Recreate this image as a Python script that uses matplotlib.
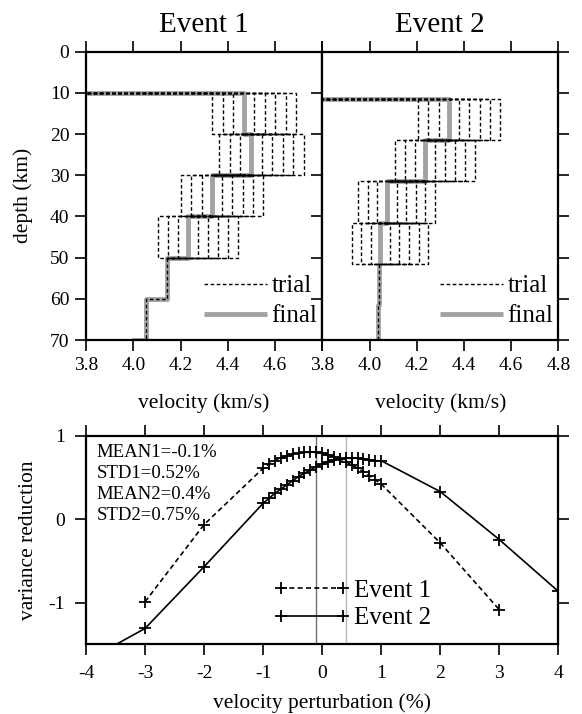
import matplotlib
matplotlib.use("Agg")
import matplotlib.pyplot as plt
import numpy as np

plt.rcParams['font.family'] = ['Liberation Serif', 'DejaVu Serif']
plt.rcParams['axes.unicode_minus'] = False

# --- top panels: layered velocity models ---
tops1 = [0, 10, 20, 30, 40, 50, 60, 70, 80]
vel1 = [3.78, 4.467, 4.498, 4.333, 4.231, 4.142, 4.053, 4.0]
tops2 = [0, 11.5, 21.5, 31.5, 41.5, 51.5, 61.5, 80]
vel2 = [3.79, 4.336, 4.234, 4.074, 4.046, 4.039, 4.034]
trial_layers = [1, 2, 3, 4]
trial_pct = [-3, -2, -1, 1, 2, 3, 4, 5]

# --- bottom panel: variance reduction vs perturbation ---
pert1 = [-3, -2, -1, -0.9, -0.8, -0.7, -0.6, -0.5, -0.4, -0.3, -0.2, -0.1, 0,
         0.1, 0.2, 0.3, 0.4, 0.5, 0.6, 0.7, 0.8, 0.9, 1, 2, 3]
vr1 = [-0.99, -0.065, 0.61, 0.66, 0.70, 0.73, 0.76, 0.78, 0.79, 0.80, 0.80, 0.80, 0.79,
       0.77, 0.75, 0.72, 0.69, 0.65, 0.61, 0.57, 0.52, 0.47, 0.42, -0.285, -1.085]
pert2 = [-4, -3, -2, -1, -0.9, -0.8, -0.7, -0.6, -0.5, -0.4, -0.3, -0.2, -0.1, 0,
         0.1, 0.2, 0.3, 0.4, 0.5, 0.6, 0.7, 0.8, 0.9, 1, 2, 3, 4]
vr2 = [-1.70, -1.31, -0.57, 0.19, 0.25, 0.31, 0.36, 0.41, 0.46, 0.51, 0.55, 0.59, 0.63, 0.66,
       0.69, 0.71, 0.72, 0.73, 0.73, 0.73, 0.72, 0.71, 0.70, 0.70, 0.33, -0.245, -0.865]
mean1, mean2 = -0.1, 0.4
stats = ["MEAN1=-0.1%", "STD1=0.52%", "MEAN2=0.4%", "STD2=0.75%"]

GRAY = '#a3a3a3'
TRIAL_LS = (0, (2.6, 1.8))


def steps(tops, vels):
    y = np.repeat(tops, 2)[1:-1]
    x = np.repeat(vels, 2)
    return x, y


def style_axes(ax, pad=4):
    for s in ax.spines.values():
        s.set_linewidth(1.6)
    ax.tick_params(direction='out', length=8, width=1.2, labelsize=14, pad=pad,
                   top=True, right=True)


fig = plt.figure(figsize=(5.82, 7.14), dpi=100)
ax1 = fig.add_axes([0.1478, 0.5238, 0.4060, 0.4038])
ax2 = fig.add_axes([0.5538, 0.5238, 0.4055, 0.4038])
ax3 = fig.add_axes([0.1478, 0.0976, 0.8115, 0.2922])

for ax, tops, vel, title in [(ax1, tops1, vel1, 'Event 1'), (ax2, tops2, vel2, 'Event 2')]:
    x, y = steps(tops, vel)
    hf, = ax.plot(x, y, color=GRAY, lw=3.5, solid_capstyle='butt', label='final')
    ht = None
    # each trial: only the perturbed layer, joined to its neighbours
    for li in trial_layers:
        for p in trial_pct:
            vp = vel[li] * (1 + p / 100.0)
            ht, = ax.plot([vel[li - 1], vp, vp, vel[li + 1]],
                          [tops[li], tops[li], tops[li + 1], tops[li + 1]],
                          color='black', lw=1.0, ls=TRIAL_LS)
    # unperturbed part below the trial layers
    last = trial_layers[-1] + 1
    tx, ty = steps(tops[last:], vel[last:])
    ax.plot(tx, ty, color='black', lw=1.0, ls=TRIAL_LS)
    ht.set_label('trial')
    ax.set_xlim(3.8, 4.8)
    ax.set_ylim(70, 0)
    ax.set_xticks([3.8, 4.0, 4.2, 4.4, 4.6, 4.8])
    ax.set_yticks(range(0, 71, 10))
    ax.set_xlabel('velocity (km/s)', fontsize=15.5, labelpad=14)
    ax.set_title(title, fontsize=21, pad=14)
    style_axes(ax)
    ax.legend(handles=[ht, hf], loc='lower right', bbox_to_anchor=(0.99, 0.035),
              frameon=False, fontsize=18, handlelength=2.5, handletextpad=0.2,
              labelspacing=0.3, borderaxespad=0.0, borderpad=0.1)

ax1.set_xticklabels(['3.8', '4.0', '4.2', '4.4', '4.6', ''])
ax1.set_ylabel('depth (km)', fontsize=15.5, labelpad=12)
ax2.tick_params(labelleft=False)

# bottom panel
ax3.axvline(mean1, color='#707070', lw=1.0, zorder=1)
ax3.axvline(mean2, color='#b8b8b8', lw=1.0, zorder=1)
ax3.plot(pert1, vr1, color='black', lw=1.2, ls=(0, (3, 2)), marker='+', ms=9, mew=1.3,
         label='Event 1')
ax3.plot(pert2, vr2, color='black', lw=1.2, marker='+', ms=9, mew=1.3, label='Event 2')
ax3.set_xlim(-4, 4)
ax3.set_ylim(-1.5, 1)
ax3.set_xticks(range(-4, 5))
ax3.set_yticks([-1, 0, 1])
ax3.set_xlabel('velocity perturbation (%)', fontsize=15.5, labelpad=8)
ax3.set_ylabel('variance reduction', fontsize=15.5, labelpad=8)
style_axes(ax3, pad=7)
ax3.text(0.022, 0.962, '\n'.join(stats), transform=ax3.transAxes, fontsize=13.5,
         va='top', ha='left', linespacing=1.32)
ax3.legend(loc='lower left', bbox_to_anchor=(0.365, 0.0), frameon=False, fontsize=18,
           numpoints=2, handlelength=3.07, handletextpad=0.15, labelspacing=0.2,
           borderpad=0.1)

fig.savefig('out.png', dpi=100)
